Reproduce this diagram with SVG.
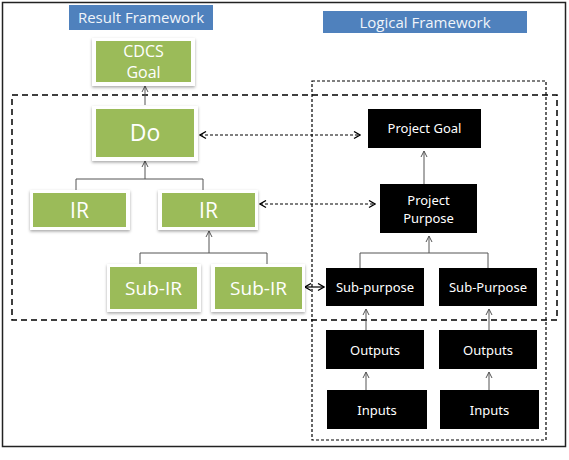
<svg xmlns="http://www.w3.org/2000/svg" width="569" height="460" viewBox="0 0 569 460">
<style>
.lbl{fill:#4f81bd}
.lbltxt{font-family:"Open Sans","Noto Sans",sans-serif;font-size:15px;fill:#f0f4fa;text-anchor:middle}
.g{fill:#9bbb59}
.gframe{fill:#ffffff;filter:url(#sh)}
.gt{font-family:"Open Sans","Noto Sans",sans-serif;fill:#ffffff;text-anchor:middle}
.b{fill:#000000}
.bt{font-family:"Noto Sans","Open Sans",sans-serif;font-size:13px;fill:#ffffff;text-anchor:middle}
.con{stroke:#555;stroke-width:1;fill:none}
.dash{stroke:#000;stroke-width:1.2;fill:none;stroke-dasharray:3,2}
</style>
<defs>
<filter id="sh" x="-20%" y="-20%" width="140%" height="150%">
<feDropShadow dx="0" dy="1.5" stdDeviation="1.5" flood-color="#000" flood-opacity="0.35"/>
</filter>
<marker id="ah" markerWidth="8" markerHeight="8" refX="7" refY="4" orient="auto" markerUnits="userSpaceOnUse">
<path d="M1,1 L7,4 L1,7" fill="none" stroke="#555" stroke-width="1"/>
</marker>
<marker id="ahd" markerWidth="9" markerHeight="9" refX="8" refY="4.5" orient="auto-start-reverse" markerUnits="userSpaceOnUse">
<path d="M2,1 L8,4.5 L2,8" fill="none" stroke="#000" stroke-width="1.3"/>
</marker>
</defs>
<rect x="0" y="0" width="569" height="460" fill="#ffffff"/>
<rect x="2.5" y="2.5" width="563" height="444" fill="none" stroke="#222" stroke-width="1.5"/>

<g id="frames">
<rect x="12" y="95" width="545" height="225" fill="none" stroke="#000" stroke-width="1.5" stroke-dasharray="6,4"/>
<rect x="312" y="81" width="234" height="359" class="dash"/>
</g>

<g id="label-result"><rect class="lbl" x="69" y="5" width="144" height="25"/><text class="lbltxt" x="141" y="23">Result Framework</text></g>
<g id="label-logical"><rect class="lbl" x="323" y="11" width="204" height="22"/><text class="lbltxt" x="425" y="28">Logical Framework</text></g>

<g id="connectors">
<line class="con" x1="145" y1="105" x2="145" y2="86" marker-end="url(#ah)"/>
<polyline class="con" points="76,193 76,179 203,179 203,193"/>
<line class="con" x1="145" y1="179" x2="145" y2="161" marker-end="url(#ah)"/>
<polyline class="con" points="140,264 140,253 267,253 267,264"/>
<line class="con" x1="209" y1="253" x2="209" y2="231" marker-end="url(#ah)"/>
<line class="con" x1="424" y1="184" x2="424" y2="151" marker-end="url(#ah)"/>
<polyline class="con" points="360,268 360,253 488,253 488,268"/>
<line class="con" x1="429" y1="253" x2="429" y2="236" marker-end="url(#ah)"/>
<line class="con" x1="366" y1="330" x2="366" y2="309" marker-end="url(#ah)"/>
<line class="con" x1="489" y1="330" x2="489" y2="309" marker-end="url(#ah)"/>
<line class="con" x1="366" y1="390" x2="366" y2="372" marker-end="url(#ah)"/>
<line class="con" x1="489" y1="390" x2="489" y2="372" marker-end="url(#ah)"/>
<line x1="200" y1="135" x2="360" y2="135" stroke="#000" stroke-width="1.2" stroke-dasharray="3,2" marker-start="url(#ahd)" marker-end="url(#ahd)"/>
<line x1="260" y1="204" x2="375" y2="204" stroke="#000" stroke-width="1.2" stroke-dasharray="3,2" marker-start="url(#ahd)" marker-end="url(#ahd)"/>
<line x1="305" y1="287" x2="324" y2="287" stroke="#000" stroke-width="1.2" marker-start="url(#ahd)" marker-end="url(#ahd)"/>
</g>

<g id="cdcs-goal"><rect class="gframe" x="92" y="38" width="103" height="48"/><rect class="g" x="96" y="41" width="95" height="41"/><text class="gt" font-size="16" x="143.5" y="57">CDCS</text><text class="gt" font-size="16" x="143.5" y="78">Goal</text></g>
<g id="do"><rect class="gframe" x="92" y="106" width="106" height="55"/><rect class="g" x="96" y="109" width="98" height="48"/><text class="gt" font-size="23" x="145" y="141">Do</text></g>
<g id="ir-left"><rect class="gframe" x="30" y="190" width="100" height="40"/><rect class="g" x="33" y="193" width="93" height="34"/><text class="gt" font-size="21" x="79.5" y="218">IR</text></g>
<g id="ir-right"><rect class="gframe" x="158" y="190" width="100" height="40"/><rect class="g" x="162" y="193" width="93" height="34"/><text class="gt" font-size="21" x="208.5" y="218">IR</text></g>
<g id="subir-left"><rect class="gframe" x="107" y="264" width="94" height="48"/><rect class="g" x="110" y="267" width="87" height="42"/><text class="gt" font-size="19" x="153.5" y="295">Sub-IR</text></g>
<g id="subir-right"><rect class="gframe" x="211" y="264" width="94" height="48"/><rect class="g" x="215" y="267" width="87" height="42"/><text class="gt" font-size="19" x="258.5" y="295">Sub-IR</text></g>

<g id="project-goal"><rect class="b" x="368" y="109" width="113" height="39"/><text class="bt" x="424.5" y="133">Project Goal</text></g>
<g id="project-purpose"><rect class="b" x="380" y="184" width="97" height="49"/><text class="bt" x="428.5" y="205">Project</text><text class="bt" x="428.5" y="223">Purpose</text></g>
<g id="sub-purpose-left"><rect class="b" x="326" y="268" width="98" height="38"/><text class="bt" x="375" y="292">Sub-purpose</text></g>
<g id="sub-purpose-right"><rect class="b" x="439" y="268" width="98" height="38"/><text class="bt" x="488" y="292">Sub-Purpose</text></g>
<g id="outputs-left"><rect class="b" x="326" y="330" width="98" height="39"/><text class="bt" x="375" y="355">Outputs</text></g>
<g id="outputs-right"><rect class="b" x="439" y="330" width="98" height="39"/><text class="bt" x="488" y="355">Outputs</text></g>
<g id="inputs-left"><rect class="b" x="327" y="390" width="100" height="39"/><text class="bt" x="377" y="415">Inputs</text></g>
<g id="inputs-right"><rect class="b" x="440" y="390" width="99" height="39"/><text class="bt" x="489.5" y="415">Inputs</text></g>
</svg>
